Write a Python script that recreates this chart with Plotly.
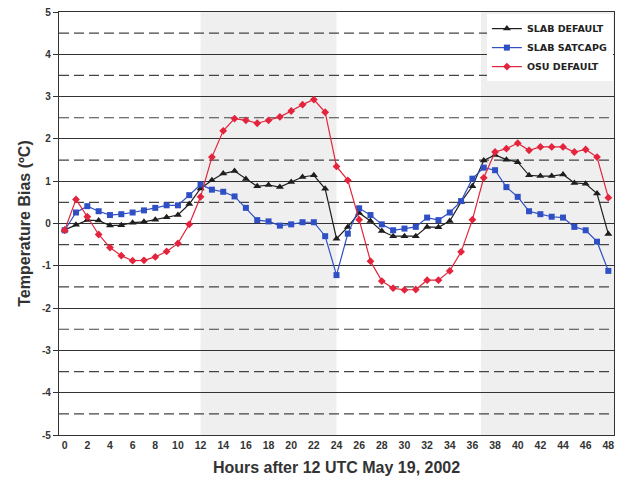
import plotly.graph_objects as go

hours = list(range(49))

slab_default = [-0.15, -0.03, 0.08, 0.07, -0.05, -0.04, 0.02, 0.04, 0.09, 0.15,
                0.2, 0.46, 0.83, 1.02, 1.18, 1.24, 1.05, 0.88, 0.91, 0.86,
                0.98, 1.1, 1.14, 0.82, -0.36, -0.08, 0.25, 0.06, -0.18, -0.3,
                -0.3, -0.3, -0.08, -0.09, 0.06, 0.51, 0.88, 1.49, 1.62, 1.51,
                1.45, 1.14, 1.12, 1.12, 1.16, 0.96, 0.94, 0.71, -0.25]

slab_satcapg = [-0.16, 0.26, 0.41, 0.29, 0.2, 0.22, 0.26, 0.31, 0.37, 0.43,
                0.43, 0.67, 0.92, 0.8, 0.75, 0.64, 0.37, 0.08, 0.05, -0.05,
                -0.02, 0.03, 0.03, -0.3, -1.22, -0.24, 0.36, 0.2, -0.02, -0.16,
                -0.12, -0.08, 0.14, 0.08, 0.26, 0.53, 1.06, 1.32, 1.26, 0.86,
                0.63, 0.29, 0.22, 0.16, 0.14, -0.08, -0.16, -0.43, -1.12]

osu_default = [-0.16, 0.57, 0.16, -0.26, -0.57, -0.76, -0.88, -0.87, -0.79, -0.66,
               -0.47, -0.02, 0.63, 1.57, 2.19, 2.48, 2.44, 2.37, 2.44, 2.52,
               2.66, 2.81, 2.93, 2.63, 1.35, 1.02, 0.09, -0.89, -1.36, -1.53,
               -1.57, -1.56, -1.34, -1.34, -1.12, -0.67, 0.09, 1.08, 1.69, 1.77,
               1.9, 1.73, 1.81, 1.81, 1.81, 1.69, 1.75, 1.57, 0.61]

series_names = ["SLAB DEFAULT", "SLAB SATCAPG", "OSU DEFAULT"]

x_tick_vals = list(range(0, 49, 2))
y_tick_vals = [5, 4, 3, 2, 1, 0, -1, -2, -3, -4, -5]
y_tick_text = ["5", "4", "3", "2", "1", "0", "-1", "-2", "-3", "-4", "-5"]
half_levels = [4.5, 3.5, 2.5, 1.5, 0.5, -0.5, -1.5, -2.5, -3.5, -4.5]
shaded_spans = [(12, 24), (36.75, 48.5)]

fig = go.Figure()

styles = [
    dict(color="#1e1e1e", symbol="triangle-up", size=7),
    dict(color="#2f4fc4", symbol="square", size=6),
    dict(color="#e3243c", symbol="diamond", size=6),
]
for name, vals, st in zip(series_names, [slab_default, slab_satcapg, osu_default], styles):
    fig.add_trace(go.Scatter(
        x=hours, y=vals, name=name, mode="lines+markers",
        line=dict(color=st["color"], width=1.2),
        marker=dict(color=st["color"], symbol=st["symbol"], size=st["size"]),
    ))

shapes = []
for a, b in shaded_spans:
    shapes.append(dict(type="rect", xref="x", yref="paper", x0=a, x1=b, y0=0, y1=1,
                       fillcolor="#efefef", line=dict(width=0), layer="below"))
for h in half_levels:
    shapes.append(dict(type="line", xref="paper", yref="y", x0=0, x1=1, y0=h, y1=h,
                       line=dict(color="#444444", width=1.2, dash="10px,5px"), layer="below"))

fig.update_layout(
    width=619, height=489,
    margin=dict(l=59, r=5, t=12, b=54),
    paper_bgcolor="white", plot_bgcolor="white",
    shapes=shapes,
    showlegend=True,
    legend=dict(x=0.998, y=0.995, xanchor="right", yanchor="top",
                bgcolor="white", borderwidth=0,
                font=dict(family="DejaVu Sans", size=9.5, color="#222222", weight="bold"),
                itemwidth=30, tracegroupgap=0),
    font=dict(family="Liberation Sans, Arial", color="#333333"),
)

fig.update_xaxes(
    range=[-0.5, 48.5], tickvals=x_tick_vals, ticks="",
    tickfont=dict(size=10.5, color="#333333", weight="bold"),
    showgrid=False, zeroline=False,
    showline=True, linecolor="#333333", linewidth=1.2, mirror=True,
    title=dict(text="Hours after 12 UTC May 19, 2002",
               font=dict(size=16, color="#333333", weight="bold"), standoff=12),
)
fig.update_yaxes(
    range=[-5, 5], tickvals=y_tick_vals, ticktext=y_tick_text,
    ticks="outside", ticklen=5, tickcolor="#333333",
    tickfont=dict(size=10, color="#333333", weight="bold"),
    showgrid=True, gridcolor="#333333", gridwidth=1.2, zeroline=False,
    showline=True, linecolor="#333333", linewidth=1.2, mirror=True,
    title=dict(text="Temperature Bias (ºC)",
               font=dict(size=16, color="#333333", weight="bold"), standoff=7),
)

fig.write_html("out.html", config={"displayModeBar": False},
               post_script="document.body.style.margin='0';")
